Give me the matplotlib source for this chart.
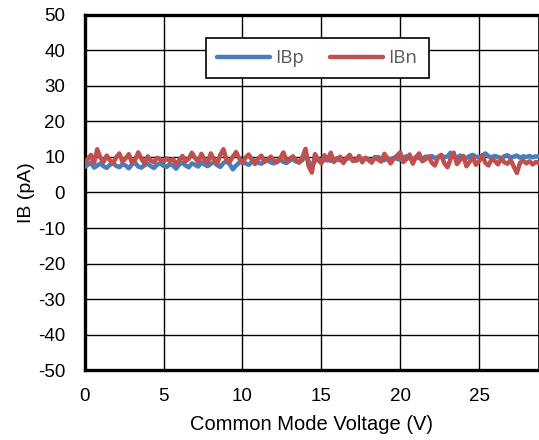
import matplotlib

matplotlib.use("Agg")

import matplotlib.pyplot as plt
import numpy as np

# 共模电压 (V)，步长 0.2
vcm = np.round(np.arange(0, 28.81, 0.2), 1)

ibp = [
    7.2, 7.8, 8.4, 7.0, 7.6, 8.2, 7.4, 6.9, 7.8, 8.3,
    7.5, 7.1, 8.0, 7.6, 6.8, 7.9, 8.4, 7.3, 7.0, 7.7,
    8.1, 7.4, 6.9, 7.8, 8.3, 7.5, 7.2, 8.0, 7.6, 6.7,
    7.9, 8.4, 7.6, 7.1, 8.2, 7.8, 7.3, 8.5, 7.9, 7.4,
    8.1, 8.6, 7.7, 7.2, 8.3, 8.8, 7.9, 6.5, 7.6, 8.4,
    8.9, 8.2, 7.8, 8.6, 9.0, 8.4, 8.1, 8.7, 9.1, 8.5,
    8.2, 8.8, 9.2, 8.6, 8.3, 9.0, 9.4, 8.7, 8.5, 9.1,
    10.6, 8.8, 7.2, 8.9, 9.3, 8.6, 9.1, 9.5, 8.9, 9.2,
    9.6, 9.0, 8.8, 9.4, 9.8, 9.1, 8.9, 9.5, 9.2, 9.7,
    9.3, 8.9, 9.6, 10.0, 9.4, 9.1, 9.7, 9.3, 9.8, 9.5,
    9.2, 9.9, 10.2, 9.6, 9.3, 10.0, 9.7, 9.4, 10.1, 9.8,
    10.3, 9.7, 10.0, 10.5, 9.9, 10.2, 11.2, 10.1, 9.8, 10.4,
    10.0, 9.7, 10.3, 10.6, 10.1, 9.9, 10.4, 11.0, 10.2, 9.9,
    10.3, 10.0, 9.6, 10.2, 10.5, 9.9, 10.1, 10.4, 9.8, 10.2,
    10.0, 10.3, 9.9, 10.2, 10.1,
]

ibn = [
    8.0, 9.4, 10.6, 8.3, 12.2, 9.8, 8.6, 10.4, 9.1, 8.2,
    9.9, 11.0, 8.7, 9.6, 10.8, 8.4, 9.2, 11.3, 9.5, 8.1,
    10.2, 9.0, 8.5, 9.8, 9.3, 8.7, 9.6, 8.9, 9.4, 8.0,
    9.1, 10.3, 8.8, 9.5, 11.2, 9.7, 8.6, 10.9, 9.2, 8.4,
    11.0, 9.3, 8.1, 10.6, 12.2, 9.0, 8.7, 10.1, 11.4, 9.6,
    8.3, 9.8, 10.7, 9.2, 8.0, 9.5, 10.4, 8.6, 9.3, 10.1,
    9.0, 8.5, 9.7, 11.3, 8.8, 9.4, 10.2, 9.1, 8.4, 9.9,
    12.3, 7.4, 5.6, 10.8, 9.3, 8.2, 10.5, 9.0, 11.2, 8.6,
    9.4, 10.1, 8.3, 9.7, 10.6, 8.9, 9.2, 10.3, 8.5, 9.8,
    9.1, 8.4, 10.0, 9.3, 8.7, 10.9, 9.5, 8.2, 9.6, 10.4,
    11.3, 8.6, 9.4, 10.7, 8.1, 9.9, 11.0, 8.8, 9.3, 10.2,
    8.4, 7.6, 9.8, 10.6, 8.2, 7.1, 9.5, 11.2, 8.0, 9.1,
    10.3, 7.4, 8.6, 9.9, 7.8, 8.8, 10.5, 8.3, 7.6, 9.4,
    8.9, 7.9, 9.7, 8.5, 8.1, 9.2, 7.3, 5.5, 8.4, 9.0,
    8.2, 8.8, 7.9, 8.6, 8.3,
]

x_ticks = [0, 5, 10, 15, 20, 25]
y_ticks = list(range(-50, 51, 10))

plt.rcParams["font.family"] = ["Liberation Sans", "DejaVu Sans"]
plt.rcParams["axes.unicode_minus"] = False

fig = plt.figure(figsize=(5.39, 4.40), dpi=100)
ax = fig.add_axes([0.157, 0.159, 0.843, 0.807])

# 画两条偏置电流曲线
ax.plot(vcm, ibp, color="#4a7ebb", lw=3.2, label="IBp", solid_capstyle="round", zorder=3)
ax.plot(vcm, ibn, color="#c0504d", lw=3.2, label="IBn", solid_capstyle="round", zorder=4)

ax.set_xlim(0, 28.8)
ax.set_ylim(-50, 50)
ax.set_xticks(x_ticks)
ax.set_yticks(y_ticks)
ax.tick_params(length=0, labelsize=13.5, colors="black")
ax.tick_params(axis="x", pad=13)
ax.tick_params(axis="y", pad=14)

ax.set_xlabel("Common Mode Voltage (V)", fontsize=14.5, labelpad=7)
ax.set_ylabel("IB (pA)", fontsize=14, labelpad=2)

# 网格
ax.grid(color="black", lw=1.0)
ax.set_axisbelow(True)
for side in ["left", "bottom", "top"]:
    ax.spines[side].set_linewidth(2.4)
ax.spines["right"].set_linewidth(1.2)

leg = ax.legend(
    loc="upper center",
    bbox_to_anchor=(0.512, 0.962),
    ncol=2,
    frameon=True,
    fancybox=False,
    edgecolor="black",
    handlelength=2.8,
    columnspacing=1.4,
    handletextpad=0.3,
    borderpad=0.6,
    prop={"family": "Open Sans", "size": 13.5},
)
leg.get_frame().set_linewidth(1.2)
leg.get_frame().set_alpha(1)
for t in leg.get_texts():
    t.set_color("#595959")

plt.savefig("out.png", dpi=100)
